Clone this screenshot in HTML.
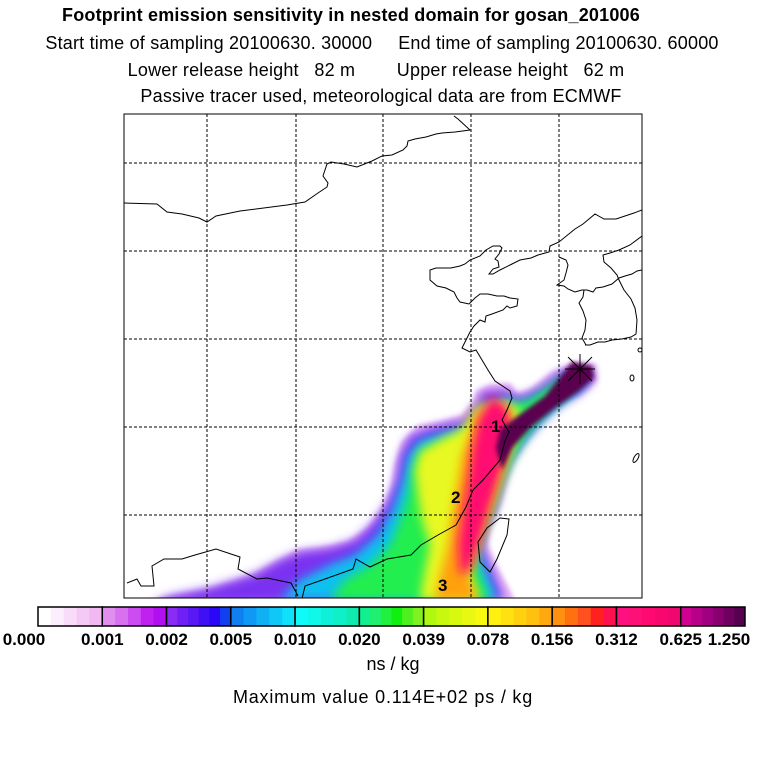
<!DOCTYPE html>
<html><head><meta charset="utf-8"><style>
body{margin:0;background:#fff;width:768px;height:768px;overflow:hidden;font-family:"Liberation Sans",sans-serif;}
.t{position:absolute;left:0;width:768px;text-align:center;font-size:18px;letter-spacing:0.2px;color:#000;white-space:pre;}
</style></head><body>
<div class="t" style="top:5px;left:-33px;font-weight:bold">Footprint emission sensitivity in nested domain for gosan_201006</div>
<div class="t" style="top:33px;left:-2px">Start time of sampling 20100630. 30000     End time of sampling 20100630. 60000</div>
<div class="t" style="top:60px;left:-8px">Lower release height   82 m        Upper release height   62 m</div>
<div class="t" style="top:86px;left:-3px">Passive tracer used, meteorological data are from ECMWF</div>
<svg id="svg" width="768" height="768" style="position:absolute;left:0;top:0">
<defs>
<clipPath id="mc"><rect x="124" y="114" width="518" height="484"/></clipPath>
<filter id="bl" x="-20%" y="-20%" width="140%" height="140%"><feGaussianBlur stdDeviation="5"/></filter>
<filter id="bl2"><feGaussianBlur stdDeviation="2"/></filter>
</defs>
<g clip-path="url(#mc)">
<polygon filter="url(#bl2)" fill="#e8b8f5" points="596,364 598,381 582,395 565,401 545,418 528,439 514,460 507,480 502,501 497,514 490,528 488,545 497,566 510,590 517,605 240,605 147,605 161,597 202,590 250,576 274,562 298,549 319,547 346,542 367,528 380,511 390,490 394,466 401,442 418,425 435,422 462,415 473,401 476,391 490,384 510,383 517,393 531,388 551,372 569,364 579,362"/>
<polygon filter="url(#bl)" fill="#7a30f0" points="592,368 592,382 578,394 560,404 540,422 522,442 508,465 500,490 494,512 484,530 482,548 492,570 505,600 150,605 170,596 210,588 255,574 280,560 300,552 330,548 355,540 372,524 386,505 396,480 400,455 410,436 430,428 465,420 478,402 482,392 505,390 520,398 540,388 560,372"/>
<polygon filter="url(#bl)" fill="#10c0f0" points="588,372 586,384 572,396 552,410 532,430 515,452 502,478 494,505 485,528 478,550 488,575 498,600 280,600 300,580 330,565 355,555 378,535 392,510 402,482 408,455 420,440 440,434 468,426 484,404 505,398 522,404 545,392 565,376"/>
<polygon filter="url(#bl)" fill="#20ee50" points="580,376 570,392 548,410 528,432 512,458 500,485 490,512 480,535 475,560 484,585 490,600 330,600 345,580 370,565 390,545 400,520 408,495 412,470 420,450 440,442 470,432 488,410 508,406 530,400 560,380"/>
<polygon filter="url(#bl)" fill="#e8f820" points="505,400 520,410 515,440 505,470 492,510 478,545 470,575 480,600 420,600 425,570 430,545 422,520 418,495 415,470 420,452 440,440 460,430 478,405"/>
<polygon filter="url(#bl)" fill="#ffa010" points="500,408 512,420 505,455 492,500 478,540 468,575 478,600 435,600 440,575 448,545 452,515 458,480 462,455 470,435 478,412"/>
<polygon filter="url(#bl)" fill="#ff1070" points="492,395 508,408 512,430 503,465 492,500 482,535 470,570 460,575 458,545 462,515 468,480 472,450 478,420"/>
<polygon filter="url(#bl2)" fill="#5a0550" points="572,362 592,366 594,378 578,392 555,408 530,428 512,448 502,470 496,448 500,430 515,418 545,396"/>
</g>
<g fill="none" stroke="#000" stroke-width="1" clip-path="url(#mc)">
<polyline points="124,203 157,204 167,212 182,214 199,218 207,222 216,216 240,211 287,205 305,202 318,193 327,187 328,183 323,176 327,164 331,162 344,164 357,167 372,161 382,156 392,155 403,150 407,146 408,141 415,139 426,137 436,134 442,133 455,132 470,130 458,119 454,116"/>
<polyline points="642,210 634,213 616,219 604,219 595,214 583,224 575,229 559,242 550,246 549,252 538,255 531,258 520,260 510,265 500,270 493,274 489,274 493,269 499,267 498,261 495,259 499,254 502,248 500,246 493,246 486,250 480,256 470,260 465,264 460,266 451,268 436,268 430,270 430,280 437,286 446,288 454,292 457,298 460,302 469,304 475,298 480,294 488,294 497,296 504,296 510,298 518,299 517,306 510,308 507,306 503,310 492,314 486,316 485,322 480,320 474,326 470,332 465,342 462,348 470,352 476,350 488,370 495,381 510,391 512,398 507,410 502,420 509,432 505,441 500,460 483,480 473,490 466,507 456,525 438,535 421,545 411,555 387,559 370,567 356,559 353,569 325,579 305,586 301,603"/>
<polyline points="559,257 566,260 568,265 566,273 564,280 557,285 564,286 568,289 575,292 582,290 587,290 593,292 596,288 603,287 612,284 619,278 625,276 632,274 637,271 642,270"/>
<polyline points="642,236 630,245 619,250 610,253 603,255 604,262 611,268 617,275 619,280 624,290 631,299 635,308 637,320 636,334 631,337 622,339 612,340 605,342 598,342 590,345 585,345"/>
<polyline points="584,290 583,297 579,303 583,311 586,320 585,330 582,338 586,345"/>
<polygon points="500,518 509,519 507,535 497,559 490,572 480,562 478,542 487,528"/>
<polyline points="127,583 137,579 141,586 154,586 152,566 164,559 182,559 195,555 216,549 240,557 238,569 257,579 267,578 291,583 298,596"/>
<ellipse cx="632" cy="378" rx="2" ry="3"/><ellipse cx="636" cy="458" rx="2" ry="5" transform="rotate(30 636 458)"/><ellipse cx="640" cy="350" rx="2" ry="2"/>
</g>
<g id="grid" stroke="#000" stroke-width="1" stroke-dasharray="3,2"></g>
<rect x="124" y="114" width="518" height="484" fill="none" stroke="#000" stroke-width="1"/>
<g stroke="#000" stroke-width="1">
<line x1="568" y1="357" x2="592" y2="381"/><line x1="568" y1="381" x2="592" y2="357"/><line x1="580" y1="354" x2="580" y2="384"/><line x1="565" y1="369" x2="595" y2="369"/></g>
<g font-family="Liberation Sans" font-weight="bold" font-size="17">
<text x="491" y="432">1</text>
<text x="451" y="503">2</text>
<text x="438" y="591">3</text></g>
<g id="cbar"></g>
<g id="cticks" font-family="Liberation Sans" font-weight="bold" font-size="17" text-anchor="middle"></g>
<text x="393" y="670" text-anchor="middle" font-family="Liberation Sans" font-size="18">ns / kg</text>
<text x="383" y="703" text-anchor="middle" font-family="Liberation Sans" font-size="18" letter-spacing="0.8">Maximum value  0.114E+02 ps / kg</text>
</svg>
<script>
const levelLabels=["0.000","0.001","0.002","0.005","0.010","0.020","0.039","0.078","0.156","0.312","0.625","1.250"];
const groupColors=[["#ffffff","#fdeefd","#f9dcf9","#f5c9f5","#f2b8f2"],["#e08ef0","#d870f0","#cc4cf2","#c020f0","#b010f0"],["#8a2cf5","#7020f5","#5a18f5","#4010f5","#2a08f5","#1040f0"],["#1080f0","#1098f5","#10b0f5","#10c8f8","#10e0fa"],["#10fafa","#10f8e8","#10f0d8","#10f0c8","#10eab0"],["#10f090","#20f070","#20f040","#10f010","#50f020","#80f020"],["#b0f810","#c8f810","#d8f810","#e8f810","#f8f810"],["#fff010","#ffe010","#ffd010","#ffc010","#ffa810"],["#ff9010","#ff7010","#ff5020","#ff2020","#ff1050"],["#ff1080","#ff1078","#ff0a70","#f8086e","#f00870"],["#d00090","#b80088","#a00080","#880070","#700060","#580050"]];
const gridX=[207,296,383,471,559],gridY=[163,251,339,427,515];
const NS="http://www.w3.org/2000/svg";
const g=document.getElementById('grid');
gridX.forEach(x=>{const l=document.createElementNS(NS,'line');l.setAttribute('x1',x);l.setAttribute('x2',x);l.setAttribute('y1',114);l.setAttribute('y2',598);

g.appendChild(l);});
gridY.forEach(y=>{const l=document.createElementNS(NS,'line');l.setAttribute('y1',y);l.setAttribute('y2',y);l.setAttribute('x1',124);l.setAttribute('x2',642);

g.appendChild(l);});
const cb=document.getElementById('cbar'),ct=document.getElementById('cticks');
const x0=38,x1=745,y0=607,h=19,gw=(x1-x0)/groupColors.length;
groupColors.forEach((cols,i)=>{const sw=gw/cols.length;cols.forEach((c,j)=>{const r=document.createElementNS(NS,'rect');
r.setAttribute('x',x0+i*gw+j*sw);r.setAttribute('y',y0);r.setAttribute('width',sw+0.5);r.setAttribute('height',h);r.setAttribute('fill',c);

cb.appendChild(r);});
const b=document.createElementNS(NS,'rect');b.setAttribute('x',x0+i*gw);b.setAttribute('y',y0);b.setAttribute('width',gw);b.setAttribute('height',h);b.setAttribute('fill','none');b.setAttribute('stroke','#000');b.setAttribute('stroke-width','1.5');

cb.appendChild(b);});
levelLabels.forEach((t,i)=>{const e=document.createElementNS(NS,'text');e.setAttribute('x',x0+i*gw-(i==levelLabels.length-1?16:0)+(i==0?-14:0));e.setAttribute('y',645);e.textContent=t;

ct.appendChild(e);});
</script>
</body></html>
